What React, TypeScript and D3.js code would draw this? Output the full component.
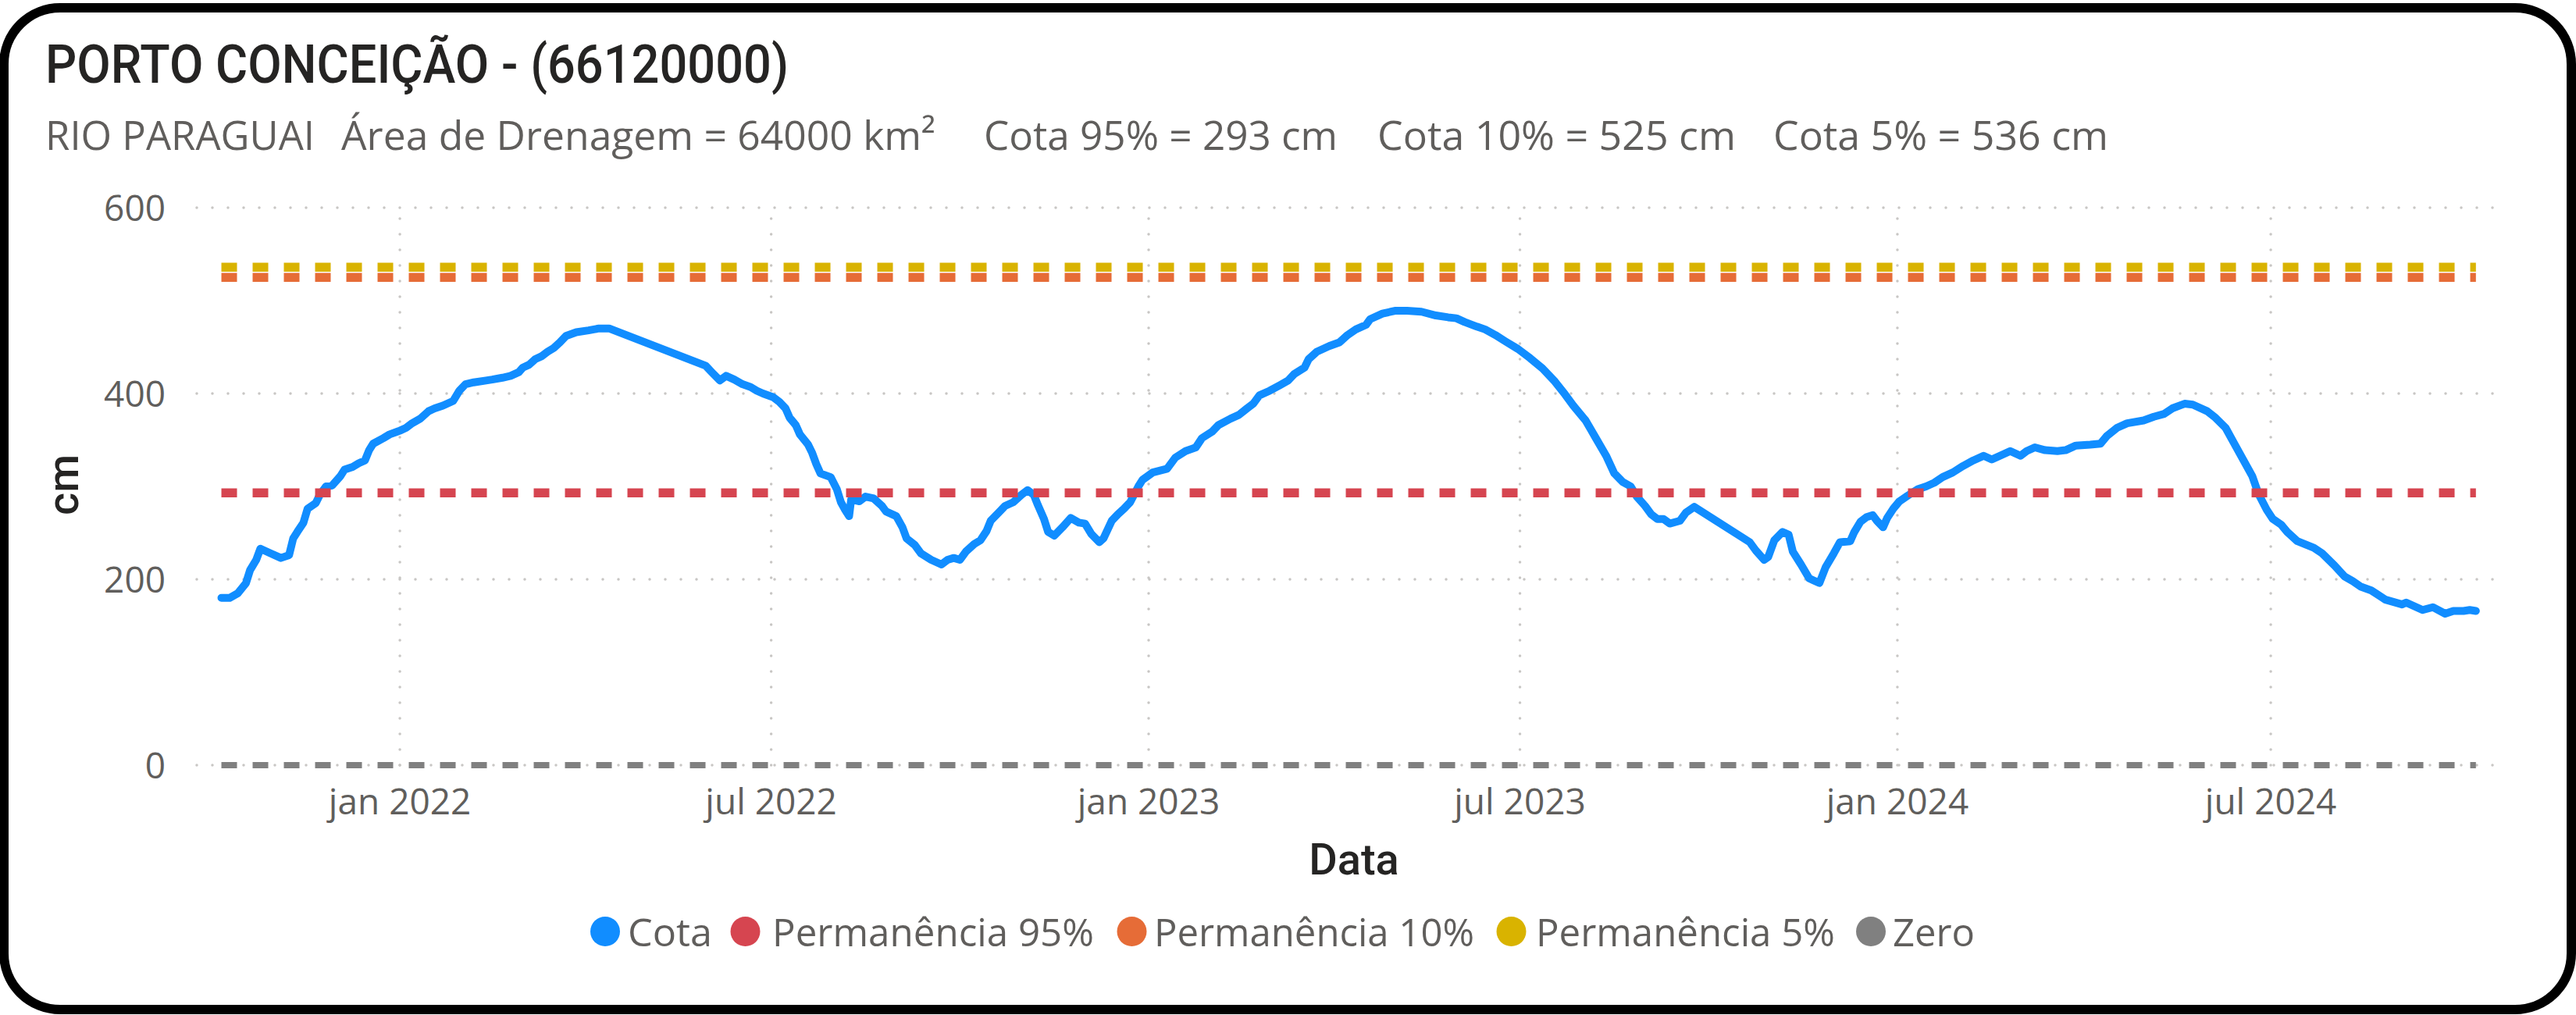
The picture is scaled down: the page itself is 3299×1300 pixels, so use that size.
import React from "react";
import * as d3 from "d3";

// ---------- DATA ----------
const dates: string[] = [
  "2021-10-06","2021-10-10","2021-10-14","2021-10-18","2021-10-20","2021-10-23","2021-10-25","2021-10-30",
  "2021-11-04","2021-11-08","2021-11-10","2021-11-12","2021-11-15","2021-11-17","2021-11-21","2021-11-23",
  "2021-11-26","2021-11-29","2021-12-03","2021-12-05","2021-12-09","2021-12-12","2021-12-15","2021-12-17",
  "2021-12-19","2021-12-24","2021-12-27","2022-01-01","2022-01-04","2022-01-07","2022-01-11","2022-01-15",
  "2022-01-18","2022-01-22","2022-01-27","2022-01-30","2022-02-02","2022-02-06","2022-02-12","2022-02-15",
  "2022-02-20","2022-02-24","2022-02-28","2022-03-02","2022-03-05","2022-03-08","2022-03-11","2022-03-14",
  "2022-03-17","2022-03-20","2022-03-23","2022-03-28","2022-04-03","2022-04-08","2022-04-13","2022-05-30",
  "2022-06-02","2022-06-06","2022-06-09","2022-06-13","2022-06-17","2022-06-21","2022-06-24","2022-06-27",
  "2022-07-02","2022-07-05","2022-07-08","2022-07-10","2022-07-13","2022-07-15","2022-07-19","2022-07-21",
  "2022-07-23","2022-07-25","2022-07-30","2022-08-02","2022-08-04","2022-08-06","2022-08-08","2022-08-09",
  "2022-08-13","2022-08-16","2022-08-20","2022-08-24","2022-08-26","2022-08-31","2022-09-03","2022-09-05",
  "2022-09-09","2022-09-12","2022-09-17","2022-09-22","2022-09-25","2022-09-28","2022-10-01","2022-10-04",
  "2022-10-08","2022-10-11","2022-10-14","2022-10-16","2022-10-20","2022-10-23","2022-10-27","2022-10-31",
  "2022-11-03","2022-11-06","2022-11-08","2022-11-11","2022-11-13","2022-11-16","2022-11-20","2022-11-24",
  "2022-11-28","2022-12-01","2022-12-04","2022-12-08","2022-12-10","2022-12-14","2022-12-17","2022-12-20",
  "2022-12-23","2022-12-27","2022-12-29","2023-01-03","2023-01-10","2023-01-14","2023-01-19","2023-01-24",
  "2023-01-27","2023-02-01","2023-02-04","2023-02-10","2023-02-14","2023-02-18","2023-02-21","2023-02-24",
  "2023-03-01","2023-03-06","2023-03-10","2023-03-13","2023-03-18","2023-03-20","2023-03-24","2023-03-30",
  "2023-04-04","2023-04-08","2023-04-12","2023-04-17","2023-04-19","2023-04-25","2023-05-01","2023-05-07",
  "2023-05-14","2023-05-21","2023-05-27","2023-05-31","2023-06-04","2023-06-10","2023-06-14","2023-06-19",
  "2023-06-24","2023-06-30","2023-07-06","2023-07-12","2023-07-18","2023-07-23","2023-07-27","2023-08-02",
  "2023-08-07","2023-08-12","2023-08-16","2023-08-20","2023-08-24","2023-08-27","2023-08-31","2023-09-03",
  "2023-09-06","2023-09-09","2023-09-12","2023-09-17","2023-09-20","2023-09-24","2023-10-21","2023-10-24",
  "2023-10-28","2023-10-30","2023-11-02","2023-11-06","2023-11-09","2023-11-11","2023-11-15","2023-11-19",
  "2023-11-21","2023-11-24","2023-11-27","2023-12-01","2023-12-04","2023-12-09","2023-12-11","2023-12-14",
  "2023-12-17","2023-12-20","2023-12-22","2023-12-25","2023-12-27","2023-12-30","2024-01-02","2024-01-06",
  "2024-01-11","2024-01-15","2024-01-19","2024-01-23","2024-01-28","2024-02-02","2024-02-07","2024-02-12",
  "2024-02-16","2024-02-20","2024-02-25","2024-03-01","2024-03-04","2024-03-08","2024-03-13","2024-03-19",
  "2024-03-23","2024-03-28","2024-04-04","2024-04-09","2024-04-12","2024-04-17","2024-04-22","2024-04-30",
  "2024-05-05","2024-05-10","2024-05-14","2024-05-20","2024-05-24","2024-05-31","2024-06-04","2024-06-09",
  "2024-06-13","2024-06-17","2024-06-22","2024-06-25","2024-06-29","2024-07-02","2024-07-06","2024-07-09",
  "2024-07-14","2024-07-22","2024-07-26","2024-08-01","2024-08-06","2024-08-10","2024-08-14","2024-08-19",
  "2024-08-26","2024-09-03","2024-09-05","2024-09-13","2024-09-18","2024-09-24","2024-09-28","2024-10-03",
  "2024-10-06","2024-10-09"
];

const cota: number[] = [
  180,180,185,196,210,221,233,228,
  223,226,244,251,261,276,282,291,
  300,301,311,318,321,325,328,339,
  346,352,356,360,363,368,373,381,
  384,387,392,403,410,412,414,415,
  417,419,423,428,431,437,440,445,
  449,455,462,466,468,470,470,430,
  423,414,419,415,410,407,403,400,
  396,391,384,374,366,356,345,336,
  324,314,310,297,283,275,268,286,
  284,289,287,279,273,268,256,244,
  237,228,221,216,221,223,221,230,
  238,242,252,263,272,279,283,291,
  296,291,280,265,251,247,256,266,
  261,260,249,240,244,263,270,276,
  283,300,307,315,319,331,338,342,
  352,359,366,373,377,384,389,398,
  403,409,414,421,428,437,445,451,
  455,463,469,474,480,486,489,489,
  488,484,482,481,477,472,469,463,
  456,448,438,427,413,399,387,371,
  352,333,314,305,300,289,279,270,
  265,265,260,263,272,278,240,231,
  221,224,242,251,248,230,216,201,
  199,196,213,228,240,241,251,262,
  267,269,263,256,266,276,284,290,
  297,300,304,310,315,322,328,333,
  329,333,338,333,338,342,339,338,
  339,344,345,346,354,363,368,371,
  375,378,384,389,388,381,374,363,
  347,331,311,292,275,265,259,251,
  241,234,228,215,203,198,192,188,
  178,173,175,167,170,163,166,166,
  167,166
];

const refNames: string[] = ["Permanência 95%", "Permanência 10%", "Permanência 5%", "Zero"];
const refValues: number[] = [293, 525, 536, 0];
const refColors: string[] = ["#D64550", "#E66C37", "#D9B300", "#808080"];

const legendNames: string[] = ["Cota", "Permanência 95%", "Permanência 10%", "Permanência 5%", "Zero"];
const legendColors: string[] = ["#118DFF", "#D64550", "#E66C37", "#D9B300", "#808080"];

const yTickValues: number[] = [0, 200, 400, 600];
const monthNames: string[] = ["jan","fev","mar","abr","mai","jun","jul","ago","set","out","nov","dez"];

const titleText = "PORTO CONCEIÇÃO - (66120000)";
const subtitleParts: string[] = [
  "RIO PARAGUAI",
  "Área de Drenagem = 64000 km²",
  "Cota 95% = 293 cm",
  "Cota 10% = 525 cm",
  "Cota 5% = 536 cm",
];

// ---------- LAYOUT ----------
const W = 3299;
const H = 1300;
const plotLeft = 252;
const plotRight = 3195;
const plotTop = 266;
const plotBottom = 980;

const subtitleX = [58, 437, 1260, 1764, 2271];
const subtitleW = [345, 761, 453, 459, 429];
const legendCx = [775, 954.5, 1449.5, 1935.5, 2396];
const legendTx = [804, 989, 1478, 1967, 2424];
const legendTw = [108, 412, 410, 383, 105];

const sans = "'Open Sans', 'Noto Sans', sans-serif";
const din = "Roboto, 'Open Sans', sans-serif";

export default function App() {
  const parse = d3.utcParse("%Y-%m-%d");
  const parsed = dates.map((d) => parse(d) as Date);
  const points = parsed.map((d, i) => ({ d, v: cota[i] }));

  const x = d3
    .scaleUtc()
    .domain([new Date(Date.UTC(2021, 8, 24)), new Date(Date.UTC(2024, 9, 18, 5))])
    .range([plotLeft, plotRight]);
  const y = d3.scaleLinear().domain([0, 600]).range([plotBottom, plotTop]);

  const line = d3
    .line<{ d: Date; v: number }>()
    .x((p) => x(p.d))
    .y((p) => y(p.v));

  const first = parsed[0];
  const last = parsed[parsed.length - 1];

  const xTicks = d3.utcMonth.every(6)!.range(x.domain()[0], x.domain()[1]);
  const fmt = (d: Date) => `${monthNames[d.getUTCMonth()]} ${d.getUTCFullYear()}`;

  return (
    <svg
      width={W}
      height={H}
      style={{ position: "absolute", left: 0, top: 0, background: "#fff" }}
    >
      <rect x={0} y={0} width={W} height={H} fill="#fff" />
      {/* border */}
      <rect
        x={5}
        y={10}
        width={W - 11}
        height={H - 17}
        rx={72}
        ry={72}
        fill="none"
        stroke="#000"
        strokeWidth={12}
      />

      {/* title */}
      <text
        x={58}
        y={106}
        fontFamily={din}
        fontSize={68}
        fontWeight={500}
        fill="#252423"
        textLength={952}
        lengthAdjust="spacingAndGlyphs"
      >
        {titleText}
      </text>
      {subtitleParts.map((s, i) => (
        <text
          key={s}
          x={subtitleX[i]}
          y={192}
          fontFamily={sans}
          fontSize={52}
          fill="#605E5C"
          textLength={subtitleW[i]}
          lengthAdjust="spacingAndGlyphs"
        >
          {s}
        </text>
      ))}

      {/* gridlines */}
      {yTickValues.map((t) => (
        <line
          key={"hg" + t}
          x1={plotLeft}
          x2={plotRight}
          y1={y(t)}
          y2={y(t)}
          stroke="#C8C6C4"
          strokeWidth={3.5}
          strokeDasharray="0 20"
          strokeLinecap="round"
        />
      ))}
      {xTicks.map((t) => (
        <line
          key={"vg" + t.toISOString()}
          x1={x(t)}
          x2={x(t)}
          y1={plotBottom}
          y2={plotTop}
          stroke="#C8C6C4"
          strokeWidth={3.5}
          strokeDasharray="0 20"
          strokeLinecap="round"
        />
      ))}

      {/* y tick labels */}
      {yTickValues.map((t) => (
        <text
          key={"yl" + t}
          x={212}
          y={y(t)}
          dy="0.36em"
          textAnchor="end"
          fontFamily={sans}
          fontSize={46}
          fill="#605E5C"
        >
          {t}
        </text>
      ))}
      {/* x tick labels */}
      {xTicks.map((t) => (
        <text
          key={"xl" + t.toISOString()}
          x={x(t)}
          y={1043}
          textAnchor="middle"
          fontFamily={sans}
          fontSize={46}
          fill="#605E5C"
        >
          {fmt(t)}
        </text>
      ))}

      {/* axis titles */}
      <text
        transform={`translate(100, 621) rotate(-90)`}
        textAnchor="middle"
        fontFamily={din}
        fontSize={56}
        fontWeight={500}
        fill="#252423"
      >
        cm
      </text>
      <text
        x={1734}
        y={1120}
        textAnchor="middle"
        fontFamily={din}
        fontSize={56}
        fontWeight={500}
        fill="#252423"
      >
        Data
      </text>

      {/* Cota line */}
      <path
        d={line(points) || ""}
        fill="none"
        stroke="#118DFF"
        strokeWidth={10}
        strokeLinejoin="round"
        strokeLinecap="round"
      />

      {/* reference lines */}
      {refValues.map((v, i) => (
        <path
          key={refNames[i]}
          d={line([{ d: first, v }, { d: last, v }]) || ""}
          fill="none"
          stroke={refColors[i]}
          strokeWidth={v === 0 ? 8 : 11.5}
          strokeDasharray="20 20"
        />
      ))}

      {/* legend */}
      {legendNames.map((n, i) => (
        <g key={"lg" + n}>
          <circle cx={legendCx[i]} cy={1193} r={19} fill={legendColors[i]} />
          <text
            x={legendTx[i]}
            y={1212}
            fontFamily={sans}
            fontSize={50}
            fill="#605E5C"
            textLength={legendTw[i]}
            lengthAdjust="spacingAndGlyphs"
          >
            {n}
          </text>
        </g>
      ))}
    </svg>
  );
}
